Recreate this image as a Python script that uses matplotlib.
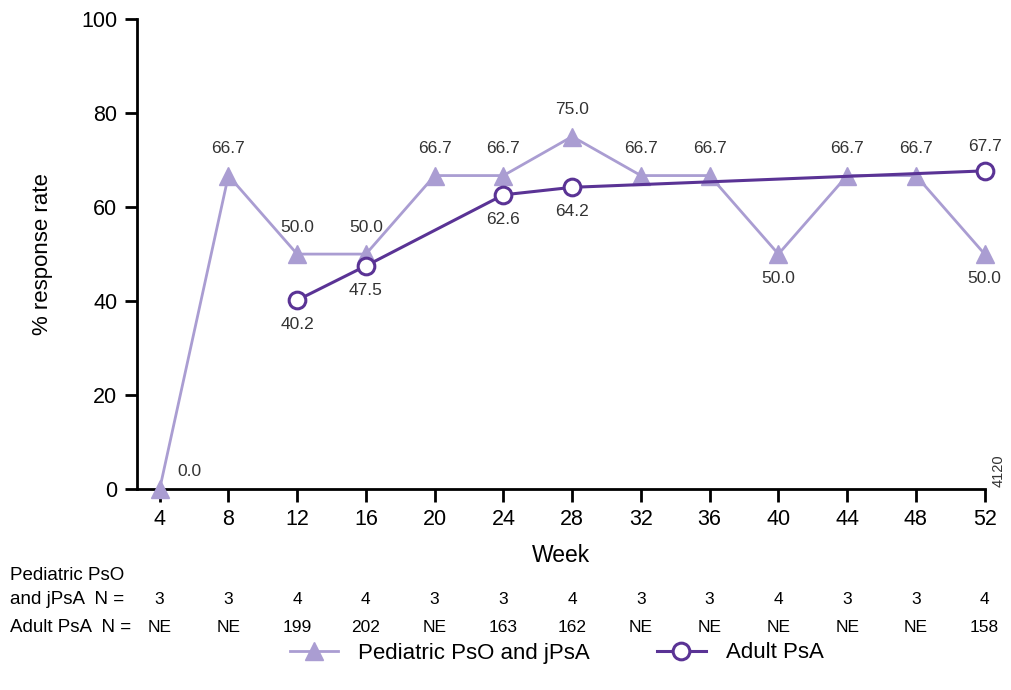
import numpy as np
import matplotlib.pyplot as plt

plt.rcParams['font.family'] = ['Liberation Sans', 'DejaVu Sans']

# Data
weeks = [4, 8, 12, 16, 20, 24, 28, 32, 36, 40, 44, 48, 52]
ped_rate = [0.0, 66.7, 50.0, 50.0, 66.7, 66.7, 75.0, 66.7, 66.7, 50.0, 66.7, 66.7, 50.0]
adult_weeks = [12, 16, 24, 28, 52]
adult_rate = [40.2, 47.5, 62.6, 64.2, 67.7]
ped_n = ['3', '3', '4', '4', '3', '3', '4', '3', '3', '4', '3', '3', '4']
adult_n = ['NE', 'NE', '199', '202', 'NE', '163', '162', 'NE', 'NE', 'NE', 'NE', 'NE', '158']

# label placement: 'a' above, 'b' below, 'r' right
ped_pos = ['r', 'a', 'a', 'a', 'a', 'a', 'a', 'a', 'a', 'b', 'a', 'a', 'b']
adult_pos = ['b', 'b', 'b', 'b', 'a']

light = '#aa9dd2'
dark = '#5a3395'
txt = '#333333'
fs_ann = 12.5

fig = plt.figure(figsize=(10.12, 6.9), dpi=100)
ax = fig.add_axes([0.135, 0.291, 0.838, 0.6815])

ax.plot(weeks, ped_rate, color=light, lw=2, marker='^', ms=13,
        markerfacecolor=light, markeredgecolor=light, zorder=3,
        label='Pediatric PsO and jPsA')
ax.plot(adult_weeks, adult_rate, color=dark, lw=2.2, marker='o', ms=12,
        markerfacecolor='white', markeredgecolor=dark, markeredgewidth=2.2,
        zorder=4, label='Adult PsA')

for x, y, p in zip(weeks, ped_rate, ped_pos):
    if p == 'a':
        ax.annotate(f'{y:.1f}', (x, y), xytext=(0, 14), textcoords='offset points',
                    ha='center', va='bottom', fontsize=fs_ann, color=txt)
    elif p == 'b':
        ax.annotate(f'{y:.1f}', (x, y), xytext=(0, -12), textcoords='offset points',
                    ha='center', va='top', fontsize=fs_ann, color=txt)
    else:
        ax.annotate(f'{y:.1f}', (x, y), xytext=(13, 7), textcoords='offset points',
                    ha='left', va='bottom', fontsize=fs_ann, color=txt)

for x, y, p in zip(adult_weeks, adult_rate, adult_pos):
    if p == 'a':
        ax.annotate(f'{y:.1f}', (x, y), xytext=(0, 12), textcoords='offset points',
                    ha='center', va='bottom', fontsize=fs_ann, color=txt)
    else:
        ax.annotate(f'{y:.1f}', (x, y), xytext=(0, -12), textcoords='offset points',
                    ha='center', va='top', fontsize=fs_ann, color=txt)

ax.set_xlim(2.66, 52)
ax.set_ylim(0, 100)
ax.set_xticks(weeks)
ax.set_yticks(np.arange(0, 101, 20))
ax.tick_params(labelsize=15.5, width=2, length=9, color='black', pad=5)
ax.spines['top'].set_visible(False)
ax.spines['right'].set_visible(False)
ax.spines['left'].set_linewidth(2)
ax.spines['bottom'].set_linewidth(2)
ax.set_xlabel('Week', fontsize=16.5, labelpad=10)
ax.set_ylabel('% response rate', fontsize=16, labelpad=20)
for ln in ax.lines:
    ln.set_clip_on(False)

ax.text(1.016, 0.005, '4120', transform=ax.transAxes, rotation=90,
        fontsize=10.5, ha='center', va='bottom', color=txt)

# N table below the axis
trans = ax.get_xaxis_transform()
fs_tab = 13.5
fig.text(10 / 1012, 1 - 576 / 690, 'Pediatric PsO', fontsize=fs_tab, va='center')
fig.text(10 / 1012, 1 - 599 / 690, 'and jPsA  N =', fontsize=fs_tab, va='center')
fig.text(10 / 1012, 1 - 627 / 690, 'Adult PsA  N =', fontsize=fs_tab, va='center')
y1 = (1 - 599 / 690 - 0.291) / 0.6815
y2 = (1 - 627 / 690 - 0.291) / 0.6815
for x, a, b in zip(weeks, ped_n, adult_n):
    ax.text(x, y1, a, transform=trans, ha='center', va='center', fontsize=12.5, clip_on=False)
    ax.text(x, y2, b, transform=trans, ha='center', va='center', fontsize=12.5, clip_on=False)

fig.legend(loc='center', bbox_to_anchor=(0.55, 1 - 653 / 690), ncol=2, frameon=False,
           fontsize=16, handlelength=2.2, columnspacing=3.0, handletextpad=0.9)

plt.savefig('out.png', dpi=100)
